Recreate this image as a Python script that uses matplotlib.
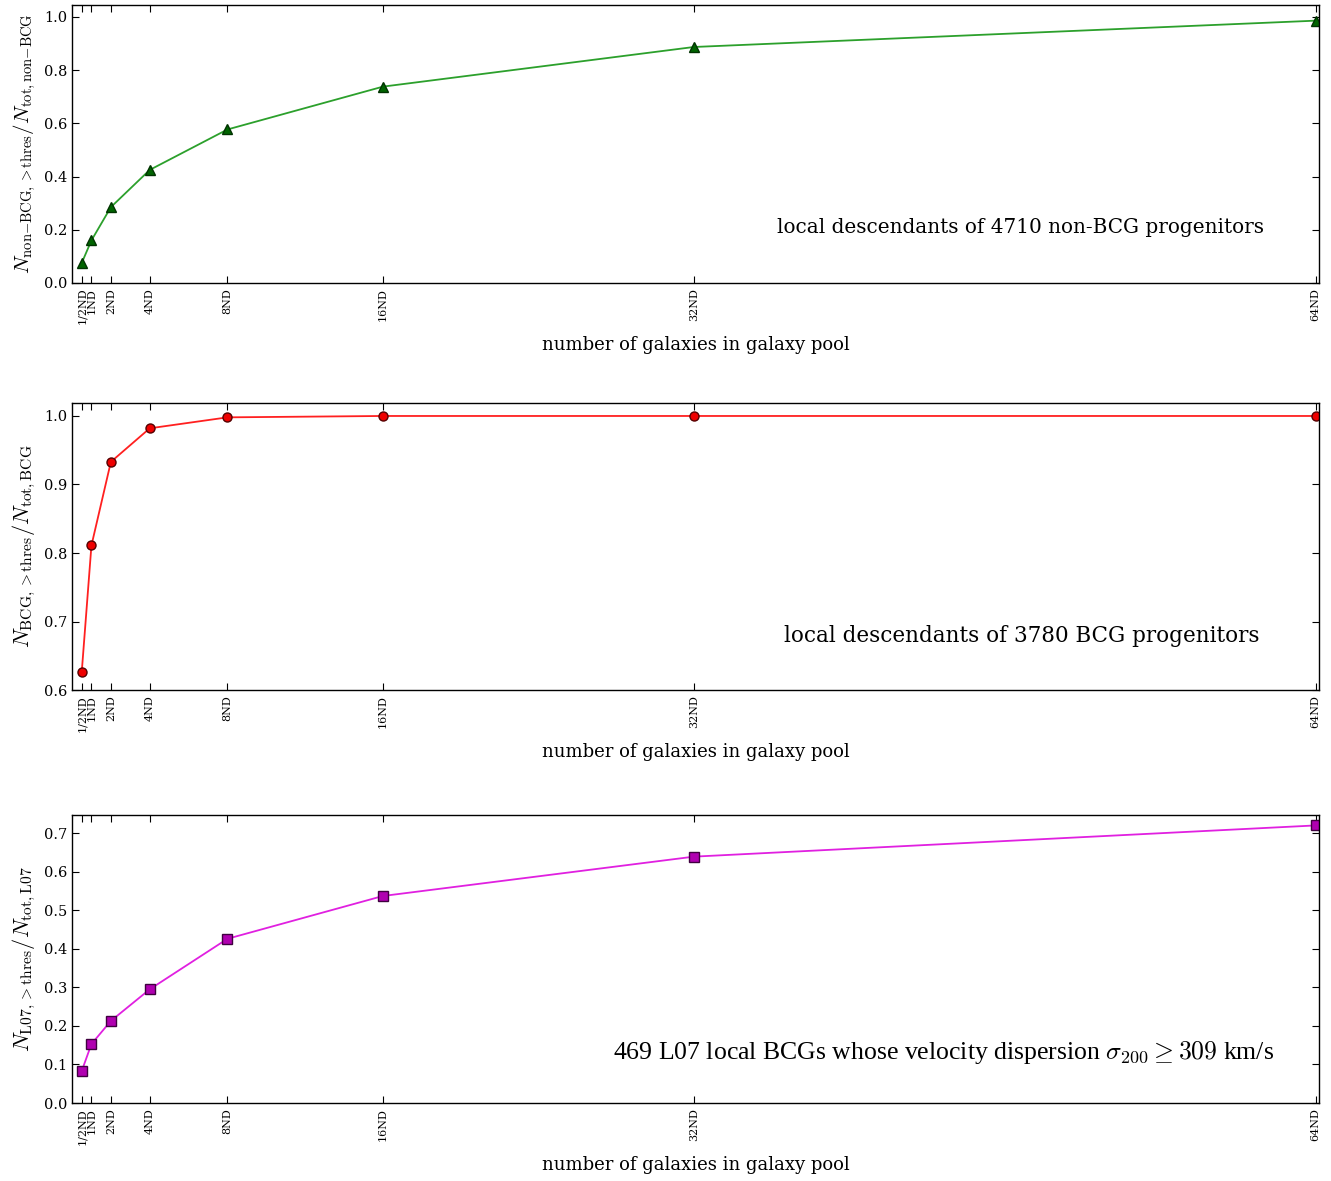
import matplotlib
matplotlib.use('Agg')
import matplotlib.pyplot as plt
import numpy as np

plt.rcParams['font.family'] = 'DejaVu Serif'
plt.rcParams['mathtext.fontset'] = 'cm'

# pool sizes in units of ND
pool = [0.5, 1, 2, 4, 8, 16, 32, 64]
pool_labels = ['1/2ND', '1ND', '2ND', '4ND', '8ND', '16ND', '32ND', '64ND']

frac_nonbcg = [0.075, 0.160, 0.285, 0.425, 0.577, 0.738, 0.887, 0.986]
frac_bcg = [0.626, 0.811, 0.933, 0.982, 0.998, 1.0, 1.0, 1.0]
frac_l07 = [0.083, 0.153, 0.213, 0.295, 0.426, 0.537, 0.639, 0.720]

fig = plt.figure(figsize=(13.31, 11.81), dpi=100)

left, width = 0.0541, 0.9369
ax1 = fig.add_axes([left, 0.7604, width, 0.2354])
ax2 = fig.add_axes([left, 0.4157, width, 0.2431])
ax3 = fig.add_axes([left, 0.0660, width, 0.2439])

ax1.plot(pool, frac_nonbcg, '-', color='#2ca02c', lw=1.3)
ax1.plot(pool, frac_nonbcg, '^', color='#006400', mec='#003300', ms=6.5)
ax1.set_ylim(0, 1.045)
ax1.set_yticks(np.arange(0, 1.01, 0.2))
ax1.set_ylabel(r'$N_{\rm non{-}BCG,>thres}/N_{\rm tot,non{-}BCG}$', fontsize=15)
ax1.text(0.956, 0.198, 'local descendants of 4710 non-BCG progenitors',
         transform=ax1.transAxes, ha='right', va='center', fontsize=14.4)

ax2.plot(pool, frac_bcg, '-', color='#ff2020', lw=1.3)
ax2.plot(pool, frac_bcg, 'o', color='#ee0000', mec='#550000', ms=6.5)
ax2.set_ylim(0.6, 1.019)
ax2.set_yticks(np.arange(0.6, 1.01, 0.1))
ax2.set_ylabel(r'$N_{\rm BCG,>thres}/N_{\rm tot,BCG}$', fontsize=16)
ax2.text(0.952, 0.188, 'local descendants of 3780 BCG progenitors',
         transform=ax2.transAxes, ha='right', va='center', fontsize=15.5)

ax3.plot(pool, frac_l07, '-', color='#e020e0', lw=1.3)
ax3.plot(pool, frac_l07, 's', color='#b000b0', mec='#400040', ms=6.5)
ax3.set_ylim(0, 0.747)
ax3.set_yticks(np.arange(0, 0.71, 0.1))
ax3.set_ylabel(r'$N_{\rm L07,>thres}/N_{\rm tot,L07}$', fontsize=16)
ax3.text(0.964, 0.174,
         r'469 L07 local BCGs whose velocity dispersion $\sigma_{200} \geq 309$ km/s',
         transform=ax3.transAxes, ha='right', va='center', fontsize=18.5,
         family='Liberation Serif')

for ax in [ax1, ax2, ax3]:
    ax.set_xlim(0, 64.17)
    ax.set_xticks(pool)
    ax.set_xticklabels(pool_labels, rotation=90, fontsize=8)
    ax.tick_params(direction='in', top=True, right=True, length=5, width=0.8)
    ax.tick_params(axis='y', labelsize=10.5)
    ax.set_xlabel('number of galaxies in galaxy pool', fontsize=13, labelpad=8)
    for s in ax.spines.values():
        s.set_linewidth(1.0)
    ax.yaxis.set_major_formatter(matplotlib.ticker.FormatStrFormatter('%.1f'))

fig.savefig('out.png', dpi=100)
